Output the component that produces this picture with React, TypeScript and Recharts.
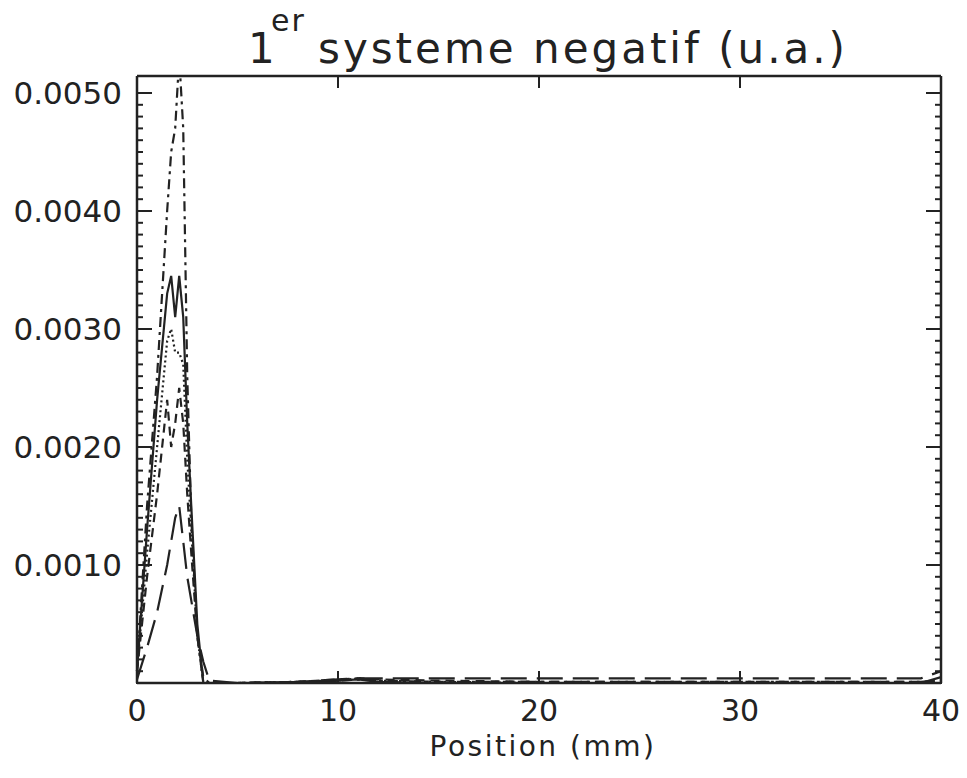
import { LineChart, Line, XAxis, YAxis } from 'recharts';

// positions (mm) shared by every curve
const positions = [0, 0.5, 1, 1.5, 1.7, 1.9, 2.1, 2.3, 2.5, 2.7, 3, 3.3, 3.6, 5, 8, 10, 11, 12, 15, 20, 30, 39, 40];

const dashDot = [0.0001, 0.0015, 0.0026, 0.004, 0.0045, 0.0047, 0.0053, 0.0047, 0.0026, 0.0014, 0.0004, 0, 0, 0, 0.00001, 0.00002, 0.00003, 0.00002, 0.00001, 0.00001, 0.00001, 0.00001, 0.00002];
const solid = [0.0001, 0.0013, 0.0024, 0.0033, 0.00345, 0.0031, 0.00345, 0.0031, 0.0022, 0.0015, 0.0005, 0, 0, 0, 0, 0.00002, 0.00003, 0.00001, 0, 0, 0, 0, 0.00005];
const dotted = [0.0001, 0.0011, 0.002, 0.0029, 0.003, 0.0028, 0.0028, 0.0027, 0.0019, 0.0013, 0.0004, 0, 0, 0, 0.00001, 0.00002, 0.00004, 0.00002, 0.00001, 0, 0, 0, 0];
const dashed = [0.0001, 0.0009, 0.0016, 0.0024, 0.002, 0.0022, 0.0025, 0.0022, 0.0016, 0.0011, 0.0004, 0.00005, 0, 0, 0.00001, 0.00003, 0.00004, 0.00003, 0.00002, 0.00001, 0.00001, 0.00001, 0.00002];
const longDash = [0.00003, 0.0003, 0.0006, 0.001, 0.0012, 0.0014, 0.0015, 0.0012, 0.0009, 0.0007, 0.0004, 0.00018, 0.00002, 0, 0.00001, 0.00003, 0.00004, 0.00004, 0.00004, 0.00004, 0.00004, 0.00004, 0.0001];

const xTicks = [0, 10, 20, 30, 40];
const yTicks = [0.001, 0.002, 0.003, 0.004, 0.005];
const yMinorTicks = Array.from({ length: 51 }, (_, i) => +(i * 0.0001).toFixed(4));

const Y_MAX = 0.005144;
const INK = '#222';
const FONT = '"DejaVu Sans", sans-serif';

const rows = positions.map((x, i) => ({
  x,
  dashDot: dashDot[i],
  solid: solid[i],
  dotted: dotted[i],
  dashed: dashed[i],
  longDash: longDash[i],
}));

const series = [
  { key: 'dashDot', dash: '10 5 3 5' },
  { key: 'solid', dash: undefined },
  { key: 'dotted', dash: '2 3' },
  { key: 'dashed', dash: '9 6' },
  { key: 'longDash', dash: '26 10' },
];

const blank = () => '';

export default function App() {
  const axisLine = { stroke: INK, strokeWidth: 2.5 };
  const tickLine = { stroke: INK, strokeWidth: 2 };
  return (
    <div style={{ position: 'absolute', left: 0, top: 0, width: 967, height: 778, background: '#fff' }}>
      <LineChart width={967} height={778} data={rows} margin={{ top: 75, right: 24, bottom: 94, left: 135 }}>
        <XAxis
          xAxisId="bottom"
          dataKey="x"
          type="number"
          domain={[0, 40]}
          ticks={xTicks}
          interval={0}
          height={1}
          axisLine={axisLine}
          tickLine={tickLine}
          tickSize={-12}
          tickMargin={29}
          tick={{ fill: INK, fontSize: 30, fontFamily: FONT }}
        />
        <XAxis
          xAxisId="top"
          orientation="top"
          dataKey="x"
          type="number"
          domain={[0, 40]}
          ticks={xTicks}
          interval={0}
          height={1}
          axisLine={axisLine}
          tickLine={tickLine}
          tickSize={-12}
          tickFormatter={blank}
        />
        <YAxis
          yAxisId="main"
          type="number"
          domain={[0, Y_MAX]}
          allowDataOverflow
          ticks={yTicks}
          interval={0}
          width={1}
          axisLine={axisLine}
          tickLine={tickLine}
          tickSize={-15}
          tickMargin={30}
          tickFormatter={(v: number) => v.toFixed(4)}
          tick={{ fill: INK, fontSize: 31, fontFamily: FONT }}
        />
        <YAxis
          yAxisId="minor"
          type="number"
          domain={[0, Y_MAX]}
          allowDataOverflow
          ticks={yMinorTicks}
          interval={0}
          width={1}
          axisLine={false}
          tickLine={tickLine}
          tickSize={-7}
          tickFormatter={blank}
        />
        <YAxis
          yAxisId="right"
          orientation="right"
          type="number"
          domain={[0, Y_MAX]}
          allowDataOverflow
          ticks={yTicks}
          interval={0}
          width={1}
          axisLine={axisLine}
          tickLine={tickLine}
          tickSize={-15}
          tickFormatter={blank}
        />
        <YAxis
          yAxisId="rightMinor"
          orientation="right"
          type="number"
          domain={[0, Y_MAX]}
          allowDataOverflow
          ticks={yMinorTicks}
          interval={0}
          width={1}
          axisLine={false}
          tickLine={tickLine}
          tickSize={-7}
          tickFormatter={blank}
        />
        {series.map((s) => (
          <Line
            key={s.key}
            xAxisId="bottom"
            yAxisId="main"
            type="linear"
            dataKey={s.key}
            stroke={INK}
            strokeWidth={2.2}
            strokeDasharray={s.dash}
            dot={false}
            isAnimationActive={false}
          />
        ))}
      </LineChart>
      <svg width={967} height={778} style={{ position: 'absolute', left: 0, top: 0, pointerEvents: 'none' }}>
        <g fill={INK} fontFamily={FONT}>
          <text x={248} y={63} fontSize={42}>1</text>
          <text x={271} y={31} fontSize={30} letterSpacing={2}>er</text>
          <text x={318} y={63} fontSize={42} letterSpacing={3}>systeme negatif (u.a.)</text>
          <text x={543} y={756} fontSize={28} letterSpacing={2.5} textAnchor="middle">Position (mm)</text>
        </g>
      </svg>
    </div>
  );
}
